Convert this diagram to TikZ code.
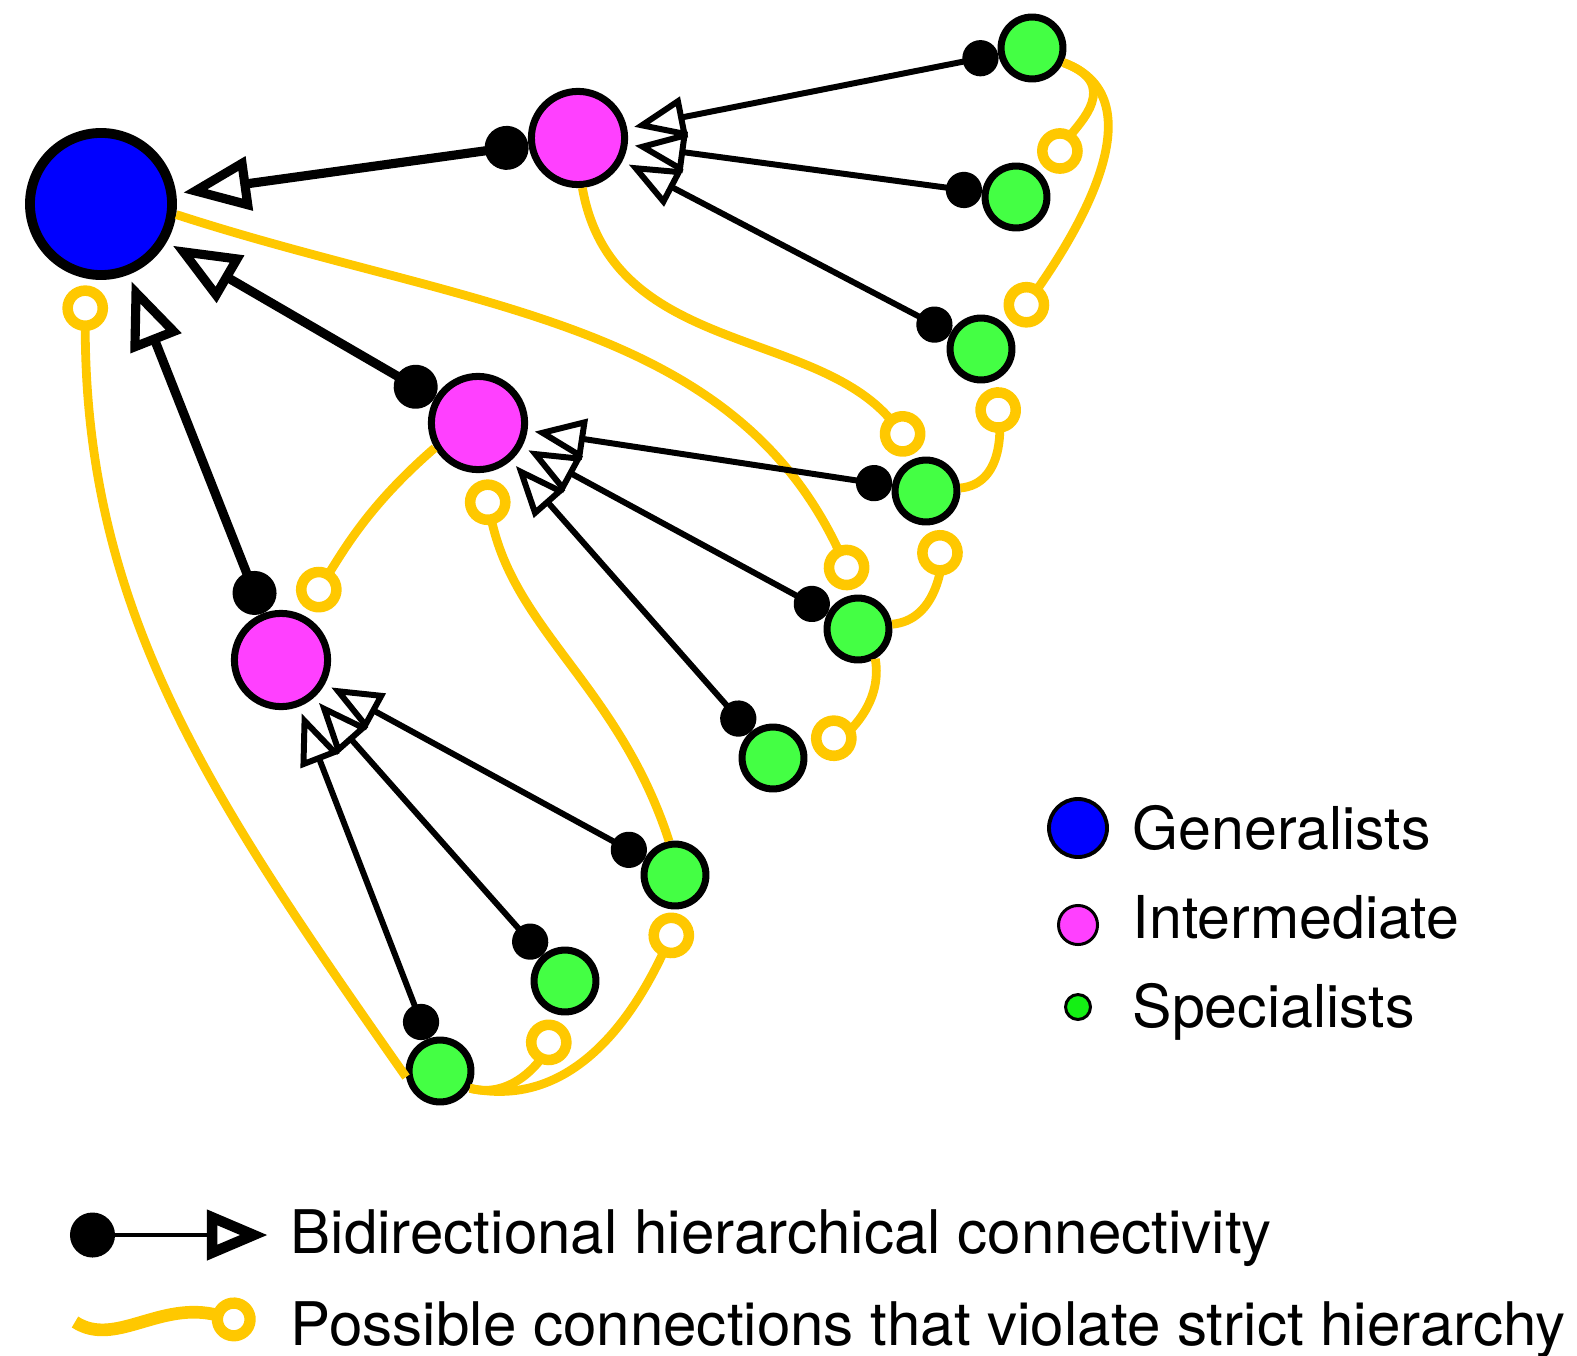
\documentclass[tikz,border=0pt]{standalone}
\usepackage{fontspec}
\setmainfont{TeX Gyre Heros}
\usepackage{tikz}
\usepackage{xcolor}
\usetikzlibrary{arrows.meta}
\definecolor{genblue}{RGB}{0,0,255}
\definecolor{midpink}{RGB}{255,64,255}
\definecolor{specgreen}{RGB}{68,255,68}
\definecolor{keygreen}{RGB}{20,240,20}
\definecolor{violyellow}{RGB}{255,200,0}
\tikzstyle{generalist} = [circle, draw=black, line width=2.8pt, fill=genblue, minimum size=40.4pt, inner sep=0pt]
\tikzstyle{intermediate} = [circle, draw=black, line width=2pt, fill=midpink, minimum size=26.5pt, inner sep=0pt]
\tikzstyle{specialist} = [circle, draw=black, line width=2pt, fill=specgreen, minimum size=17.6pt, inner sep=0pt]
\tikzstyle{toplink} = [line width=2.6pt, {Circle[length=12.5pt]}-{Triangle[open, length=19pt, width=15pt]}, shorten >=2pt]
\tikzstyle{link} = [line width=1.7pt, {Circle[length=10.3pt]}-{Triangle[open, length=14.5pt, width=11.5pt]}, shorten >=2pt]
\tikzstyle{violation} = [draw=violyellow, line width=2.5pt, -{Circle[fill=white, length=13pt, line width=3pt]}, shorten >=2pt]
\tikzstyle{legtext} = [anchor=base west, inner sep=0pt, font=\fontsize{16.8}{20}\selectfont]

\begin{document}
\begin{tikzpicture}[x=0.01cm, y=-0.01cm]
		\useasboundingbox (0,0) rectangle (1577,1355);
		\node (gen) [generalist] at (101,204) {};
		\node (inter1) [intermediate] at (578,138) {};
		\node (inter2) [intermediate] at (478,423) {};
		\node (inter3) [intermediate] at (281,660) {};
		\node (spec1) [specialist] at (1032,48) {};
		\node (spec2) [specialist] at (1016,197) {};
		\node (spec3) [specialist] at (981,349) {};
		\node (spec4) [specialist] at (926,491) {};
		\node (spec5) [specialist] at (858,629) {};
		\node (spec6) [specialist] at (773,758) {};
		\node (spec7) [specialist] at (675,875) {};
		\node (spec8) [specialist] at (565,981) {};
		\node (spec9) [specialist] at (440,1071) {};
		
		\draw [violation] (gen.-8) to[out=-18, in=115] (spec5.88);
		\draw [violation] (inter1.-85) to[out=-80, in=130] (spec4.97);
		\draw [violation] (spec1.-25) to[out=-20, in=56, looseness=1.4] (spec2.38);
		\draw [violation] (spec1.-25) to[out=-20, in=55] (spec3.35);
		\draw [violation] (spec4.5) to[out=5, in=-85] (spec3.-65);
		\draw [violation] (spec5.8) to[out=5, in=-88] (spec4.-68);
		\draw [violation] (spec5.-60) to[out=-80, in=25] (spec6.12);
		\draw [violation] (spec7.100) to[out=108, in=-78] (inter2.-86);
		\draw [violation] (inter2.210) to[out=221, in=58] (inter3.64);
		\draw [violation] (spec9.190) to[out=125, in=-90] (gen.-102);
		\draw [violation] (spec9.-30) to[out=-15, in=-115] (spec8.-96);
		\draw [violation] (spec9.-30) to[out=-12, in=-115] (spec7.-75);
		
		\draw [toplink] (inter1) -- (gen);
		\draw [toplink] (inter2) -- (gen);
		\draw [toplink] (inter3) -- (gen);
		\draw [link] (spec1) -- (inter1);
		\draw [link] (spec2) -- (inter1);
		\draw [link] (spec3) -- (inter1);
		\draw [link] (spec4) -- (inter2);
		\draw [link] (spec5) -- (inter2);
		\draw [link] (spec6) -- (inter2);
		\draw [link] (spec7) -- (inter3);
		\draw [link] (spec8) -- (inter3);
		\draw [link] (spec9) -- (inter3);
		
		\node (keygen) [circle, draw=black, line width=1.1pt, fill=genblue, minimum size=16.5pt, inner sep=0pt] at (1078,828) {};
		\node (keyinter) [circle, draw=black, line width=0.85pt, fill=midpink, minimum size=11.1pt, inner sep=0pt] at (1078,925) {};
		\node (keyspec) [circle, draw=black, line width=0.85pt, fill=keygreen, minimum size=7.1pt, inner sep=0pt] at (1078,1007) {};
		\node (txtgen) [legtext] at (1132,849) {Generalists};
		\node (txtinter) [legtext] at (1132,938) {Intermediate};
		\node (txtspec) [legtext] at (1132,1027) {Specialists};
		
		\coordinate (keyA) at (70,1235);
		\coordinate (keyB) at (268,1235);
		\draw [line width=1.3pt, {Circle[length=12.8pt]}-{Triangle[open, length=17.4pt, width=13.7pt, line width=3pt]}] (keyA) -- (keyB);
		\node (txthier) [legtext, font=\fontsize{17.1}{20}\selectfont] at (290,1253) {Bidirectional hierarchical connectivity};
		
		\coordinate (keyC) at (75,1322);
		\coordinate (keyD) at (255,1325);
		\draw [draw=violyellow, line width=3.6pt, -{Circle[fill=white, length=12.5pt, line width=3.2pt]}] (keyC) .. controls (115,1348) and (160,1300) .. (keyD);
		\node (txtviol) [legtext, font=\fontsize{17.1}{20}\selectfont] at (290,1345) {Possible connections that violate strict hierarchy};
	\end{tikzpicture}
\end{document}
